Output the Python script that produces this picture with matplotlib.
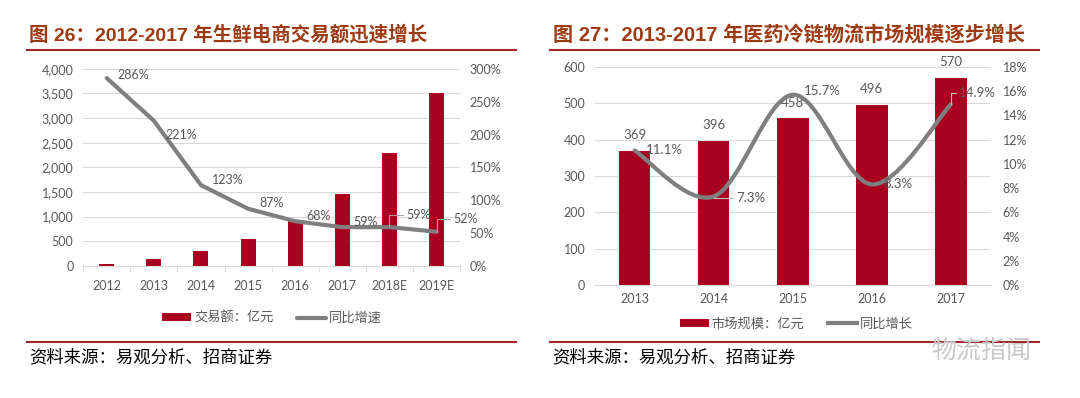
import numpy as np
import matplotlib
matplotlib.use("Agg")
from matplotlib import pyplot as plt
from matplotlib.path import Path
from matplotlib.patches import PathPatch
from matplotlib.ticker import FuncFormatter, FixedLocator

plt.rcParams['font.family'] = ['Lato', 'Noto Sans CJK SC', 'DejaVu Sans']

# chart 26 data
years_l = ["2012", "2013", "2014", "2015", "2016", "2017", "2018E", "2019E"]
amount_l = [40, 130, 300, 550, 930, 1450, 2300, 3500]
growth_l = [286, 221, 123, 87, 68, 59, 59, 52]

# chart 27 data
years_r = ["2013", "2014", "2015", "2016", "2017"]
market_r = [369, 396, 458, 496, 570]
growth_r = [11.1, 7.3, 15.7, 8.3, 14.9]

BAR = "#A8001E"
LINE = "#7F7F7F"
TXT = "#595959"
GRID = "#D9D9D9"
TITLE = "#9E3A12"
RULE = "#A0262A"

fig = plt.figure(figsize=(10.8, 3.98), dpi=100)


def style_axes(ax, ax2, xpad):
    for a in (ax, ax2):
        for s in a.spines.values():
            s.set_visible(False)
        a.tick_params(axis='y', length=0, colors=TXT, labelsize=9, pad=7)
    ax.spines['bottom'].set_visible(True)
    ax.spines['bottom'].set_color(GRID)
    ax.tick_params(axis='x', length=0, colors=TXT, labelsize=9, pad=xpad)
    ax.grid(axis='y', color=GRID, linewidth=0.8)
    ax.set_axisbelow(True)


def smooth_path(x, y):
    # excel-like smoothed line as bezier segments
    x = np.asarray(x, float)
    y = np.asarray(y, float)
    verts = [(x[0], y[0])]
    codes = [Path.MOVETO]
    n = len(x)
    for i in range(n - 1):
        p0 = (x[max(i - 1, 0)], y[max(i - 1, 0)])
        p1 = (x[i], y[i])
        p2 = (x[i + 1], y[i + 1])
        p3 = (x[min(i + 2, n - 1)], y[min(i + 2, n - 1)])
        c1 = (p1[0] + (p2[0] - p0[0]) / 6, p1[1] + (p2[1] - p0[1]) / 6)
        c2 = (p2[0] - (p3[0] - p1[0]) / 6, p2[1] - (p3[1] - p1[1]) / 6)
        verts += [c1, c2, p2]
        codes += [Path.CURVE4] * 3
    return Path(verts, codes)


# ---------------- left chart ----------------
axL = fig.add_axes([0.077, 0.332, 0.349, 0.495])
axL2 = axL.twinx()
xl = np.arange(len(years_l))
axL.bar(xl, amount_l, width=0.32, color=BAR, label="交易额：亿元", zorder=2)
axL2.plot(xl, growth_l, color=LINE, lw=3, solid_capstyle='round', label="同比增速")
axL.set_xlim(-0.5, len(years_l) - 0.5)
axL.set_ylim(0, 4000)
axL.set_yticks(np.arange(0, 4001, 500))
axL.yaxis.set_major_formatter(FuncFormatter(lambda v, p: f"{int(v):,}"))
axL2.set_ylim(0, 300)
axL2.set_yticks(np.arange(0, 301, 50))
axL2.yaxis.set_major_formatter(FuncFormatter(lambda v, p: f"{int(v)}%"))
axL.set_xticks(xl)
axL.set_xticklabels(years_l)
style_axes(axL, axL2, 10)
axL.xaxis.set_minor_locator(FixedLocator(np.arange(-0.5, len(years_l), 1)))
axL.tick_params(axis='x', which='minor', length=4, color=GRID)

offs_l = [(8, 2), (8, -10), (8, 4), (8, 4), (8, 4), (8, 4), (12, 9), (12, 9)]
for i, (v, o) in enumerate(zip(growth_l, offs_l)):
    if i >= 6:
        # leader lines for the forecast labels
        axL2.annotate(f"{v}%", (xl[i], v), xytext=o, textcoords='offset points',
                      fontsize=9, color=TXT, ha='left', va='center',
                      arrowprops=dict(arrowstyle='-', color='#A6A6A6', lw=0.8,
                                      shrinkA=0, shrinkB=0,
                                      connectionstyle='angle,angleA=0,angleB=90,rad=0'))
    else:
        axL2.annotate(f"{v}%", (xl[i], v), xytext=o, textcoords='offset points',
                      fontsize=9, color=TXT, ha='left', va='center')

# ---------------- right chart ----------------
axR = fig.add_axes([0.551, 0.284, 0.366, 0.548])
axR2 = axR.twinx()
xr = np.arange(len(years_r))
axR.bar(xr, market_r, width=0.4, color=BAR, label="市场规模：亿元", zorder=2)
axR2.add_patch(PathPatch(smooth_path(xr, growth_r), fill=False, ec=LINE, lw=3,
                         capstyle='round'))
axR2.plot([], [], color=LINE, lw=3, label="同比增长")
axR.set_xlim(-0.5, len(years_r) - 0.5)
axR.set_ylim(0, 600)
axR.set_yticks(np.arange(0, 601, 100))
axR2.set_ylim(0, 18)
axR2.set_yticks(np.arange(0, 19, 2))
axR2.yaxis.set_major_formatter(FuncFormatter(lambda v, p: f"{int(v)}%"))
axR.set_xticks(xr)
axR.set_xticklabels(years_r)
style_axes(axR, axR2, 6)
axR2.tick_params(axis='y', pad=9)

for i, v in enumerate(market_r):
    axR.annotate(f"{v}", (xr[i], v), xytext=(0, 7), textcoords='offset points',
                 fontsize=9.5, color=TXT, ha='center', va='bottom')
offs_r = [(8, 0), (16, -1), (8, 3), (8, 0), (6, 8)]
for i, (v, o) in enumerate(zip(growth_r, offs_r)):
    lead = i in (1, 4)
    axR2.annotate(f"{v}%", (xr[i], v), xytext=o, textcoords='offset points',
                  fontsize=9.5, color=TXT, ha='left', va='center',
                  arrowprops=dict(arrowstyle='-', color='#BFBFBF', lw=0.8,
                                  shrinkA=0, shrinkB=0,
                                  connectionstyle='angle,angleA=0,angleB=90,rad=0')
                  if lead else None)

# ---------------- titles, rules, legends, sources ----------------
title_font = ['Liberation Sans', 'Noto Sans CJK SC']
fig.text(0.027, 0.912, "图 26：2012-2017 年生鲜电商交易额迅速增长", family=title_font,
         fontsize=14, fontweight='bold', color=TITLE, va='center')
fig.text(0.512, 0.912, "图 27：2013-2017 年医药冷链物流市场规模逐步增长", family=title_font,
         fontsize=14.5, fontweight='bold', color=TITLE, va='center')

for x0, x1 in [(0.025, 0.478), (0.509, 0.962)]:
    fig.add_artist(plt.Line2D([x0, x1], [0.874, 0.874], color=RULE, lw=1.5))
    fig.add_artist(plt.Line2D([x0, x1], [0.141, 0.141], color=RULE, lw=1.5))

for ax, ax2, cx, cy in [(axL, axL2, 0.252, 0.203), (axR, axR2, 0.737, 0.188)]:
    h1, l1 = ax.get_legend_handles_labels()
    h2, l2 = ax2.get_legend_handles_labels()
    fig.legend(h1 + h2, l1 + l2, loc='center', bbox_to_anchor=(cx, cy), ncol=2,
               frameon=False, fontsize=9.5, labelcolor=TXT, handlelength=2.2,
               handleheight=0.5, handletextpad=0.2, columnspacing=1.8)

src = "资料来源：易观分析、招商证券"
fig.text(0.027, 0.103, src, fontsize=12.5, color='black', va='center',
         family=['Noto Sans CJK SC'])
fig.text(0.511, 0.103, src, fontsize=12.5, color='black', va='center',
         family=['Noto Sans CJK SC'])

# watermark
fig.text(0.955, 0.118, "物流指闻", fontsize=18, color='#C8C8C8', ha='right',
         va='center', family=['Noto Sans CJK SC'])

fig.savefig("out.png", dpi=100)
